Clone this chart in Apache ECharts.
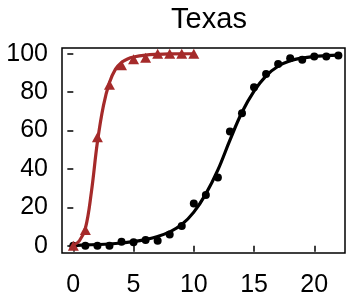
<!DOCTYPE html>
<html>
<head>
<meta charset="utf-8">
<script src="https://cdn.jsdelivr.net/npm/echarts@6/dist/echarts.min.js"></script>
<style>
  html, body { margin: 0; padding: 0; background: #fff; }
  #chart { width: 351px; height: 299px; }
</style>
</head>
<body>
<div id="chart"></div>
<script>
// observed points
var blackX = [0, 1, 2, 3, 4, 5, 6, 7, 8, 9, 10, 11, 12, 13, 14, 15, 16, 17, 18, 19, 20, 21, 22];
var blackY = [0, 0, 0, 0, 2, 1.8, 3, 2.6, 5.8, 10.3, 22, 26.4, 35.5, 59.5, 69, 82.5, 89.4, 94.6, 97.7, 96.9, 98.6, 98.6, 99.1];
var redX = [0, 1, 2, 3, 4, 5, 6, 7, 8, 9, 10];
var redY = [0, 8.2, 56.5, 83.8, 94, 97.2, 97.9, 100, 100, 100, 100];

// fitted curves
var blackFitX = [0.3, 1, 2, 3, 4, 5, 6, 7, 8, 9, 10, 11, 12, 13, 14, 15, 16, 17, 18, 19, 20, 21, 22];
var blackFitY = [0.2, 0.4, 0.6, 0.9, 1.4, 2.1, 3.2, 4.8, 7.2, 11, 17.5, 27, 39.5, 55, 69.5, 80.5, 88.5, 93.5, 96.3, 97.8, 98.6, 99, 99.3];
var redFitX = [0, 0.5, 1, 1.5, 2, 2.5, 3, 3.5, 4, 4.5, 5, 6, 7, 8, 10];
var redFitY = [0.3, 2.5, 9, 28, 54, 73, 85, 92, 95.5, 97.3, 98.3, 99.3, 99.7, 99.9, 100];

var xTicks = [0, 5, 10, 15, 20];
var yTicks = [0, 20, 40, 60, 80, 100];

var title = 'Texas';
var red = '#a52a2a';

function pairs(xs, ys) {
  return xs.map(function (x, i) { return [x, ys[i]]; });
}

var myChart = echarts.init(document.getElementById('chart'), null, { devicePixelRatio: 1 });
var option = {
  animation: false,
  title: {
    text: title,
    left: 204,
    top: 0,
    textAlign: 'center',
    textStyle: { fontFamily: 'Liberation Sans', fontSize: 29, fontWeight: 'normal', color: '#000' }
  },
  grid: {
    left: 62, right: 6, top: 48, bottom: 46,
    show: true, borderColor: '#000', borderWidth: 1.5, backgroundColor: '#fff'
  },
  xAxis: {
    type: 'value',
    min: -0.94, max: 22.55,
    splitLine: { show: false },
    axisLine: { show: false },
    axisTick: { show: true, length: 6, lineStyle: { color: '#000', width: 1.5 }, customValues: xTicks },
    axisLabel: { margin: 20, fontFamily: 'Liberation Sans', fontSize: 25, color: '#000', customValues: xTicks }
  },
  yAxis: {
    type: 'value',
    min: -3.8, max: 103,
    splitLine: { show: false },
    axisLine: { show: false },
    axisTick: { show: true, length: 6, lineStyle: { color: '#000', width: 1.5 }, customValues: yTicks },
    axisLabel: { margin: 14, fontFamily: 'Liberation Sans', fontSize: 25, color: '#000', customValues: yTicks }
  },
  series: [
    {
      type: 'line', data: pairs(blackFitX, blackFitY), smooth: 0.4, symbol: 'none',
      lineStyle: { color: '#000', width: 3.2 }, z: 2
    },
    {
      type: 'scatter', data: pairs(blackX, blackY), symbol: 'circle', symbolSize: 8,
      itemStyle: { color: '#000', opacity: 1 }, z: 3
    },
    {
      type: 'line', data: pairs(redFitX, redFitY), smooth: 0.4, symbol: 'none',
      lineStyle: { color: red, width: 3.2 }, z: 4
    },
    {
      type: 'scatter', data: pairs(redX, redY), symbol: 'triangle', symbolSize: [11, 10],
      itemStyle: { color: red, opacity: 1 }, z: 5
    }
  ]
};
option && myChart.setOption(option);
</script>
</body>
</html>
